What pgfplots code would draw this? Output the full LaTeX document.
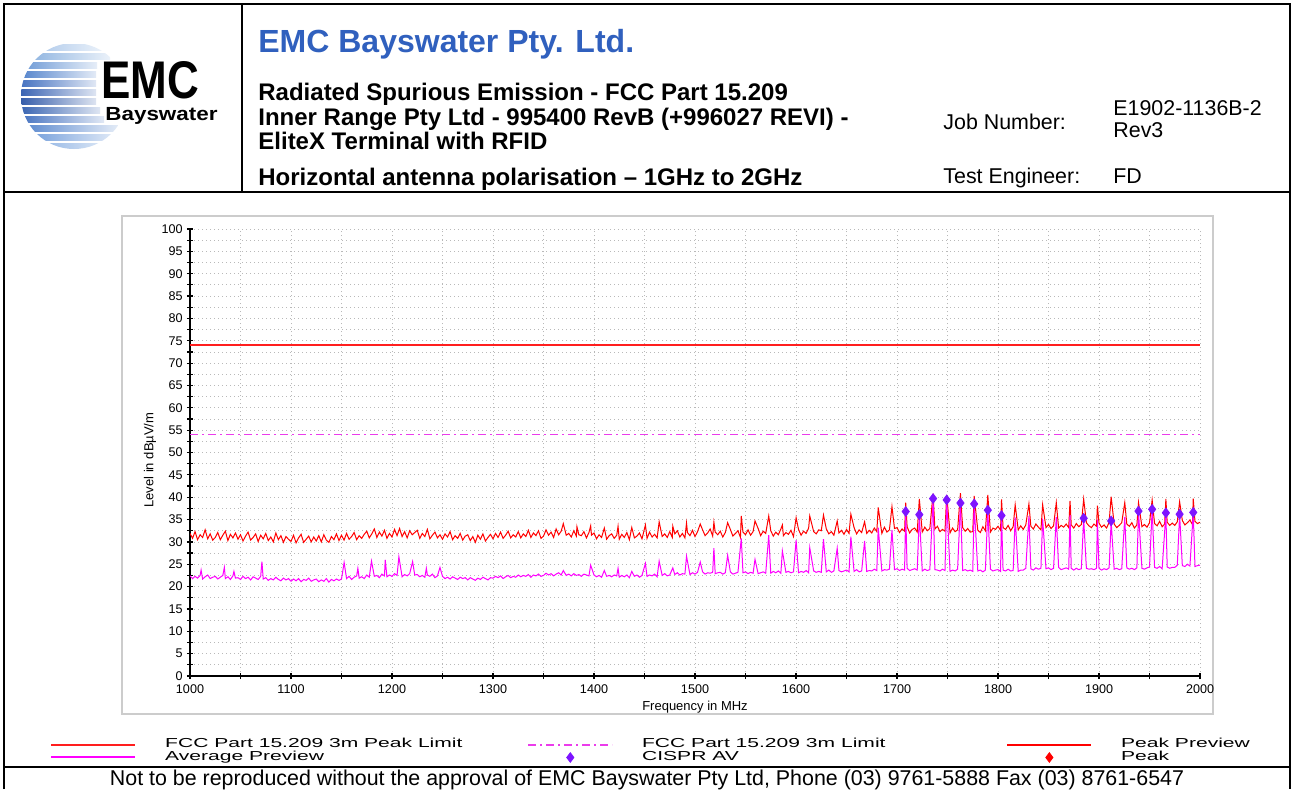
\documentclass[border=0pt]{standalone}
\usepackage{pgfplots}
\pgfplotsset{compat=1.18}
\usepackage{fontspec}
\setmainfont{Liberation Sans}
\usepackage{graphicx}
\definecolor{emcblue}{RGB}{48,96,190}
\definecolor{limmag}{RGB}{235,60,235}
\definecolor{pkred}{RGB}{255,0,0}
\definecolor{avmag}{RGB}{255,0,255}
\definecolor{cispr}{RGB}{125,20,255}
\definecolor{s1}{RGB}{150,185,228}
\definecolor{s2}{RGB}{120,165,218}
\definecolor{s3}{RGB}{90,140,208}
\definecolor{s4}{RGB}{65,118,198}
\definecolor{s5}{RGB}{48,98,185}
\definecolor{s6}{RGB}{36,82,170}
\definecolor{s7}{RGB}{30,74,160}
\definecolor{s8}{RGB}{36,84,170}
\definecolor{s9}{RGB}{50,100,186}
\definecolor{s10}{RGB}{70,122,200}
\definecolor{s11}{RGB}{92,142,212}
\definecolor{s12}{RGB}{115,160,220}
\newcommand\legtxt[1]{\scalebox{1.62}[1]{#1}}
\pgfplotsset{
  lineleg/.style={legend image code/.code={\draw[##1, line width=1pt] (0pt,0pt) -- (42pt,0pt);}},
  markleg/.style={legend image code/.code={\path[draw=none, fill=none] (0pt,-0.5pt) rectangle (42pt,0.5pt); \draw[##1] plot coordinates {(21pt,0pt)};}},
}
\begin{document}
\begin{tikzpicture}
\path[use as bounding box] (0pt,0pt) rectangle (646.5pt,-394.5pt);
\begin{scope}[x=0.5pt,y=-0.5pt]
\fill[white] (0,0) rectangle (1293,789);
% logo
\begin{scope}
\clip (74,96) circle (53);
\foreach \yy/\cc/\xe in {44/s1/108,53/s2/110,62/s3/97,71/s4/96,80/s5/96,89/s6/96,98/s7/96,107/s8/100,116/s9/104,125/s10/118,134/s11/120,143/s12/118}{
  \shade[left color=\cc, right color=\cc!15!white] (10,\yy) rectangle (\xe,\yy+6);
}
\end{scope}
\node[anchor=base west, inner sep=0pt, font=\fontsize{26.5}{28}\selectfont\bfseries] at (101,98) {\scalebox{0.83}[1]{EMC}};
\node[anchor=base west, inner sep=0pt, font=\fontsize{9.5}{11}\selectfont\bfseries] at (105,120) {\scalebox{1.18}[1]{Bayswater}};
% frame
\draw[line width=1pt] (4,789) -- (4,4) -- (1290,4) -- (1290,789);
\draw[line width=1pt] (4,192) -- (1290,192);
\draw[line width=1pt] (242,4) -- (242,192);
\draw[line width=1pt] (4,767) -- (1290,767);
% header text
\node[anchor=base west, inner sep=0pt, text=emcblue, font=\fontsize{16}{19}\selectfont\bfseries] at (258,52) {EMC Bayswater Pty. Ltd.};
\node[anchor=base west, inner sep=0pt, font=\fontsize{12}{14}\selectfont\bfseries] at (258,100) {Radiated Spurious Emission - FCC Part 15.209};
\node[anchor=base west, inner sep=0pt, font=\fontsize{12}{14}\selectfont\bfseries] at (258,125) {Inner Range Pty Ltd - 995400 RevB (+996027 REVI) -};
\node[anchor=base west, inner sep=0pt, font=\fontsize{12}{14}\selectfont\bfseries] at (258,149) {EliteX Terminal with RFID};
\node[anchor=base west, inner sep=0pt, font=\fontsize{12}{14}\selectfont\bfseries] at (258,185) {Horizontal antenna polarisation -- 1GHz to 2GHz};
\node[anchor=base west, inner sep=0pt, font=\fontsize{10.7}{13}\selectfont] at (943,129) {Job Number:};
\node[anchor=base west, inner sep=0pt, font=\fontsize{10.7}{13}\selectfont] at (1113,115) {E1902-1136B-2};
\node[anchor=base west, inner sep=0pt, font=\fontsize{10.7}{13}\selectfont] at (1113,137) {Rev3};
\node[anchor=base west, inner sep=0pt, font=\fontsize{10.7}{13}\selectfont] at (943,183) {Test Engineer:};
\node[anchor=base west, inner sep=0pt, font=\fontsize{10.7}{13}\selectfont] at (1113,183) {FD};
% chart panel
\draw[gray!40, line width=0.75pt] (122,216) rectangle (1213,714);
% footer
\node[anchor=base, inner sep=0pt, font=\fontsize{10.7}{12}\selectfont] at (647,785) {Not to be reproduced without the approval of EMC Bayswater Pty Ltd, Phone (03) 9761-5888 Fax (03) 8761-6547};
\end{scope}
\begin{axis}[
  at={(95pt,-338pt)}, anchor=south west,
  scale only axis, width=505pt, height=223.5pt,
  xmin=1000, xmax=2000, ymin=0, ymax=100,
  axis lines=left, axis line style={-, line width=0.6pt},
  every inner x axis line/.append style={-},
  every inner y axis line/.append style={-},
  xtick={1000,1100,...,2000}, ytick={0,5,...,100},
  minor tick num=1,
  tick align=center, major tick length=3.2pt, minor tick length=3pt,
  tick style={black, line width=0.6pt},
  grid=both,
  major grid style={gray!55, line width=0.4pt, dash pattern=on 0.5pt off 1.5pt},
  minor grid style={gray!55, line width=0.4pt, dash pattern=on 0.5pt off 1.5pt},
  scaled ticks=false,
  /pgf/number format/1000 sep={},
  /pgf/number format/assume math mode=true,
  tick label style={font=\fontsize{6.3}{7}\selectfont},
  xticklabel style={yshift=1pt},
  yticklabel style={xshift=1.5pt},
  xlabel={Frequency in MHz}, ylabel={Level in dBµV/m},
  label style={font=\fontsize{6.5}{8}\selectfont},
  xlabel style={at={(axis description cs:0.5,-0.069)}, anchor=center},
  ylabel style={at={(axis description cs:-0.0396,0.483)}, anchor=center},
  legend columns=3,
  legend cell align=left,
  lineleg,
  legend style={at={(axis description cs:-0.1386,-0.137)}, anchor=north west,
    draw=none, fill=none, inner sep=0pt, row sep=-0.6pt,
    font=\fontsize{6.5}{7}\selectfont,
    nodes={inner sep=0.4pt},
    /tikz/every odd column/.append style={column sep=14pt},
    /tikz/column 2/.append style={column sep=32pt},
    /tikz/column 4/.append style={column sep=60pt}},
]
\addplot[draw={rgb,255:red,255;green,30;blue,30}, line width=0.8pt, solid] coordinates {(1000,74) (1250,74) (1500,74) (1750,74) (2000,74)};
\addlegendentry{\legtxt{FCC Part 15.209 3m Peak Limit}}
\addplot[color=limmag, line width=0.65pt, dash pattern=on 4pt off 2pt on 1pt off 2pt] coordinates {(1000,54) (2000,54)};
\addlegendentry{\legtxt{FCC Part 15.209 3m Limit}}
\addplot[color=pkred, line width=0.5pt] coordinates {
(1000,31.9)(1002.5,30.8)(1005,32.3)(1007.5,30.5)(1010,31.6)(1012.5,31.0)(1015,32.7)(1017.5,30.7)(1020,31.8)(1022.5,30.4)
(1025,31.0)(1027.5,32.1)(1030,30.5)(1032.5,31.5)(1035,32.4)(1037.5,30.3)(1040,31.7)(1042.5,30.9)(1045,32.0)(1047.5,30.6)
(1050,31.6)(1052.5,30.2)(1055,31.3)(1057.5,32.2)(1060,30.4)(1062.5,31.0)(1065,31.8)(1067.5,30.1)(1070,31.5)(1072.5,30.7)
(1075,31.9)(1077.5,30.3)(1080,31.1)(1082.5,30.0)(1085,32.0)(1087.5,30.5)(1090,31.4)(1092.5,29.9)(1095,31.2)(1097.5,30.6)
(1100,30.1)(1102.5,31.5)(1105,29.8)(1107.5,30.9)(1110,31.7)(1112.5,29.9)(1115,30.6)(1117.5,31.3)(1120,30.0)(1122.5,31.1)
(1125,30.2)(1127.5,31.4)(1130,30.0)(1132.5,31.6)(1135,30.4)(1137.5,29.9)(1140,31.2)(1142.5,30.5)(1145,31.8)(1147.5,30.3)
(1150,31.5)(1152.5,30.4)(1155,31.9)(1157.5,30.6)(1160,31.2)(1162.5,32.1)(1165,30.5)(1167.5,31.4)(1170,30.8)(1172.5,31.7)
(1175,32.4)(1177.5,30.9)(1180,31.8)(1182.5,32.9)(1185,31.0)(1187.5,32.2)(1190,31.3)(1192.5,32.6)(1195,30.8)(1197.5,31.9)
(1200,31.1)(1202.5,32.8)(1205,31.4)(1207.5,33.0)(1210,31.2)(1212.5,32.3)(1215,30.9)(1217.5,32.5)(1220,31.6)(1222.5,32.1)
(1225,32.6)(1227.5,30.8)(1230,31.9)(1232.5,31.2)(1235,32.8)(1237.5,30.7)(1240,31.5)(1242.5,32.2)(1245,30.9)(1247.5,31.6)
(1250,30.6)(1252.5,31.8)(1255,31.1)(1257.5,32.3)(1260,30.5)(1262.5,31.4)(1265,30.8)(1267.5,31.9)(1270,30.4)(1272.5,31.3)
(1275,31.6)(1277.5,30.3)(1280,31.2)(1282.5,29.9)(1285,31.5)(1287.5,30.6)(1290,31.8)(1292.5,30.2)(1295,31.0)(1297.5,31.7)
(1300,30.7)(1302.5,31.9)(1305,31.0)(1307.5,32.2)(1310,30.8)(1312.5,31.5)(1315,32.4)(1317.5,30.9)(1320,31.6)(1322.5,31.1)
(1325,32.3)(1327.5,30.9)(1330,31.8)(1332.5,31.2)(1335,32.6)(1337.5,31.0)(1340,32.0)(1342.5,31.4)(1345,32.5)(1347.5,30.8)
(1350,31.3)(1352.5,32.7)(1355,31.5)(1357.5,32.2)(1360,31.0)(1362.5,32.9)(1365,31.6)(1367.5,32.4)(1369.6,34.1)(1372.5,31.5)
(1375,31.9)(1377.5,31.1)(1380,32.5)(1382.5,31.3)(1383.1,33.4)(1385,31.6)(1387.5,31.4)(1390,32.3)(1392.5,30.9)(1395,32.1)(1396.7,33.6)(1397.5,31.5)
(1400,32.0)(1402.5,30.7)(1405,31.6)(1407.5,31.0)(1410.2,33.1)(1412.5,30.6)(1415,31.4)(1417.5,31.8)(1420,30.8)(1422.5,31.5)(1423.8,33.5)
(1425,30.6)(1427.5,31.7)(1430,31.0)(1432.5,32.1)(1435,30.5)(1437.4,33.2)(1440,30.9)(1442.5,31.3)(1445,32.0)(1447.5,30.7)
(1450.9,33.8)(1452.5,30.8)(1455,32.2)(1457.5,31.1)(1460,31.7)(1462.5,30.9)(1464.5,34.5)(1467.5,31.2)(1470,31.8)(1472.5,31.0)
(1475,32.3)(1477.5,31.0)(1478.0,33.5)(1480,31.8)(1482.5,32.5)(1485,31.1)(1487.5,31.9)(1490,30.9)(1491.6,34.2)(1492.5,32.1)(1495,31.4)(1497.5,32.6)
(1500,31.2)(1502.5,32.3)(1505.2,34.0)(1507.5,32.7)(1510,31.4)(1512.5,32.0)(1515,32.9)(1517.5,31.3)(1518.7,34.4)(1520,32.2)(1522.5,31.6)
(1525,32.4)(1527.5,31.1)(1530,32.1)(1532.3,34.3)(1535,32.8)(1537.5,31.3)(1540,31.9)(1542.5,32.5)(1545,31.0)(1545.8,35.8)(1547.5,32.2)
(1550,31.6)(1552.5,32.7)(1555,31.5)(1557.5,32.3)(1559.4,34.7)(1562.5,33.0)(1565,31.4)(1567.5,32.4)(1570,31.9)(1573.0,35.8)
(1575,32.5)(1577.5,31.3)(1580,32.2)(1582.5,31.6)(1585,32.9)(1586.5,33.8)(1587.5,31.4)(1590,32.1)(1592.5,31.7)(1595,32.6)(1597.5,31.2)
(1600.1,35.4)(1602.5,32.8)(1605,31.5)(1607.5,32.4)(1610,31.9)(1612.5,33.1)(1613.6,35.8)(1617.5,32.3)(1620,31.8)(1622.5,32.7)
(1625,32.5)(1627.2,36.0)(1630,32.9)(1632.5,31.8)(1635,32.3)(1637.5,31.5)(1640.8,34.7)(1642.5,32.0)(1645,32.6)(1647.5,31.7)
(1650,32.8)(1652.5,31.9)(1654.3,36.2)(1657.5,33.2)(1660,31.8)(1662.5,32.7)(1665,32.1)(1667.9,34.5)(1670,31.9)(1672.5,32.6)
(1675,32.0)(1677.5,33.1)(1680,32.3)(1681.4,37.7)(1685,31.9)(1687.5,33.3)(1690,32.2)(1692.5,32.7)(1695.0,37.9)(1697.5,33.0)
(1700,33.2)(1702.5,32.1)(1705,32.9)(1707.5,32.4)(1708.6,38.8)(1710,33.4)(1712.5,32.0)(1715,32.8)(1717.5,33.1)(1720,32.2)(1722.1,39.6)
(1725,32.2)(1727.5,33.3)(1730,32.5)(1732.5,33.0)(1735.7,40.8)(1737.5,32.9)(1740,33.5)(1742.5,32.3)(1745,32.8)(1747.5,32.4)(1749.2,40.5)
(1752.5,32.0)(1755,33.1)(1757.5,32.3)(1760,32.7)(1762.8,40.9)(1765,33.2)(1767.5,32.4)(1770,33.0)(1772.5,32.2)
(1775,32.3)(1776.4,40.3)(1780,32.6)(1782.5,32.1)(1785,33.4)(1787.5,32.5)(1789.9,40.5)(1792.5,32.2)(1795,33.1)(1797.5,32.8)
(1800,33.5)(1802.5,32.6)(1803.5,39.5)(1805,33.2)(1807.5,32.8)(1810,33.7)(1812.5,32.5)(1815,33.4)(1817.0,38.3)(1820,32.7)(1822.5,33.6)
(1825,32.8)(1827.5,33.8)(1830.6,38.5)(1832.5,33.5)(1835,32.9)(1837.5,34.0)(1840,33.3)(1842.5,32.7)(1844.2,38.3)(1847.5,33.2)
(1850,33.9)(1852.5,33.0)(1855,33.6)(1857.7,38.8)(1860,33.1)(1862.5,33.7)(1865,33.3)(1867.5,34.0)(1870,33.2)(1871.3,39.2)(1872.5,33.8)
(1875,33.1)(1877.5,34.1)(1880,33.4)(1882.5,33.9)(1884.8,39.6)(1887.5,34.3)(1890,33.6)(1892.5,33.2)(1895,34.0)(1897.5,33.5)(1898.4,38.1)
(1900,34.2)(1902.5,33.3)(1905,33.8)(1907.5,33.1)(1910,34.4)(1912.0,40.1)(1915,34.0)(1917.5,33.2)(1920,33.7)(1922.5,34.3)
(1925.5,38.8)(1927.5,34.0)(1930,33.5)(1932.5,34.3)(1935,33.1)(1937.5,33.8)(1939.1,38.8)(1942.5,33.4)(1945,33.9)(1947.5,33.3)
(1950,34.3)(1952.6,39.4)(1955,34.1)(1957.5,33.6)(1960,34.6)(1962.5,33.4)(1965,34.0)(1966.2,39.6)(1967.5,34.4)(1970,33.7)(1972.5,34.2)
(1975,33.7)(1977.5,34.5)(1979.8,39.0)(1982.5,34.8)(1985,33.8)(1987.5,34.3)(1990,34.9)(1992.5,33.9)(1993.3,39.7)(1995,34.6)(1997.5,34.1)(2000,34.4)
};
\addlegendentry{\legtxt{Peak Preview}}
\addplot[color=avmag, line width=0.5pt] coordinates {
(1000,22.4)(1002.5,21.8)(1005,22.3)(1007.5,21.9)(1010,22.5)(1011,23.7)(1012.5,21.7)(1015,22.2)(1017.5,22.6)(1020,21.8)(1022.5,22.1)
(1025,22.3)(1027.5,21.7)(1030,22.1)(1032.5,22.5)(1034,24.3)(1035,21.8)(1037.5,22.2)(1040,21.6)(1042.5,22.4)(1043.5,23.4)(1045,21.9)(1047.5,22.0)
(1050,21.6)(1052.5,22.3)(1055,21.8)(1057.5,22.1)(1060,21.5)(1062.5,22.2)(1065,21.9)(1067.5,21.6)(1070,22.3)(1071.2,25.6)(1072.5,21.7)
(1075,22.0)(1077.5,21.4)(1080,21.8)(1082.5,21.5)(1085,22.1)(1087.5,21.6)(1090,21.3)(1092.5,21.9)(1095,21.5)(1097.5,21.8)
(1100,21.2)(1102.5,21.7)(1105,21.3)(1107.5,21.8)(1110,21.1)(1112.5,21.6)(1115,21.4)(1117.5,21.9)(1120,21.2)(1122.5,21.5)
(1125,21.7)(1127.5,21.1)(1130,21.5)(1132.5,21.2)(1135,21.8)(1137.5,21.0)(1140,21.6)(1142.5,21.3)(1145,21.7)(1147.5,21.4)
(1150,21.7)(1152.6,25.4)(1155,21.8)(1157.5,22.3)(1160,21.6)(1162.5,22.1)(1165,22.4)(1166.2,24.1)(1167.5,21.9)(1170,22.2)(1172.5,21.8)
(1175,22.6)(1177.5,22.1)(1179.7,25.7)(1182.5,22.3)(1185,22.5)(1187.5,22.0)(1190,22.8)(1192.5,22.4)(1193.3,26.0)(1195,22.2)(1197.5,22.6)
(1200,22.3)(1202.5,22.9)(1205,22.5)(1206.8,26.7)(1210,22.2)(1212.5,22.7)(1215,22.4)(1217.5,22.9)(1220.4,25.6)(1222.5,22.6)
(1225,22.7)(1227.5,22.2)(1230,22.5)(1232.5,22.1)(1234.0,24.1)(1235,22.6)(1237.5,22.3)(1240,22.8)(1242.5,22.0)(1245,22.4)(1247.5,24.3)
(1250,22.3)(1252.5,21.8)(1255,22.1)(1257.5,21.7)(1260,22.2)(1262.5,21.9)(1265,21.6)(1267.5,22.1)(1270,21.8)(1272.5,22.0)
(1275,21.5)(1277.5,22.0)(1280,21.7)(1282.5,21.4)(1285,21.9)(1287.5,21.6)(1290,22.1)(1292.5,21.8)(1295,21.5)(1297.5,22.0)
(1300,21.9)(1302.5,22.3)(1305,22.0)(1307.5,22.4)(1310,21.8)(1312.5,22.2)(1315,22.5)(1317.5,22.0)(1320,22.3)(1322.5,22.1)
(1325,22.6)(1327.5,22.2)(1330,22.5)(1332.5,22.3)(1335,22.7)(1337.5,22.1)(1340,22.6)(1342.5,22.4)(1345,22.8)(1347.5,22.3)
(1350,22.5)(1352.5,23.0)(1355,22.6)(1357.5,22.9)(1360,22.4)(1362.5,22.8)(1365,23.1)(1367.5,22.6)(1369.6,23.6)(1372.5,22.5)
(1375,22.8)(1377.5,22.4)(1380,22.9)(1382.5,22.5)(1385,22.7)(1387.5,22.3)(1390,22.8)(1392.5,22.6)(1395,22.4)(1396.7,24.8)
(1400,22.6)(1402.5,22.2)(1405,22.5)(1407.5,22.1)(1410.2,23.6)(1412.5,22.3)(1415,22.5)(1417.5,22.2)(1420,22.6)(1422.5,22.4)(1423.8,24.1)
(1425,22.1)(1427.5,22.5)(1430,22.2)(1432.5,22.6)(1435,22.0)(1437.4,23.4)(1440,22.3)(1442.5,22.6)(1445,22.1)(1447.5,22.5)
(1450.9,25.2)(1452.5,22.3)(1455,22.6)(1457.5,22.4)(1460,22.8)(1462.5,22.2)(1464.5,25.7)(1467.5,22.5)(1470,22.9)(1472.5,22.4)
(1475,22.6)(1478.0,24.2)(1480,22.7)(1482.5,23.1)(1485,22.6)(1487.5,22.9)(1490,22.8)(1491.6,26.8)(1495,22.7)(1497.5,23.1)
(1500,22.8)(1502.5,23.2)(1505.2,25.5)(1507.5,23.3)(1510,22.8)(1512.5,23.1)(1515,23.0)(1517.5,23.2)(1518.7,28.6)(1520,22.9)(1522.5,23.1)
(1525,23.2)(1527.5,22.8)(1530,23.1)(1532.3,27.0)(1535,23.3)(1537.5,22.8)(1540,23.0)(1542.5,23.2)(1545.8,30.8)(1547.5,23.1)
(1550,23.3)(1552.5,22.9)(1555,23.2)(1557.5,23.0)(1559.4,26.1)(1562.5,22.9)(1565,23.1)(1567.5,23.3)(1570,23.0)(1573.0,31.5)
(1575,23.0)(1577.5,23.4)(1580,23.1)(1582.5,23.5)(1585,23.0)(1586.5,28.0)(1590,23.2)(1592.5,23.4)(1595,23.1)(1597.5,23.3)
(1600.1,30.4)(1602.5,23.1)(1605,23.4)(1607.5,23.2)(1610,23.6)(1612.5,23.1)(1613.6,28.7)(1617.5,23.5)(1620,23.2)(1622.5,23.4)
(1625,23.2)(1627.2,30.6)(1630,23.3)(1632.5,23.7)(1635,23.2)(1637.5,23.5)(1640.8,28.6)(1642.5,23.6)(1645,23.3)(1647.5,23.5)
(1650,23.7)(1652.5,23.3)(1654.3,31.2)(1657.5,23.4)(1660,23.8)(1662.5,23.3)(1665,23.5)(1667.9,30.2)(1670,23.4)(1672.5,23.6)
(1675,23.5)(1677.5,23.9)(1680,23.6)(1681.4,33.2)(1685,23.5)(1687.5,23.8)(1690,23.7)(1692.5,23.9)(1695.0,32.7)(1697.5,23.8)
(1700,24.0)(1702.5,23.6)(1705,23.9)(1707.5,23.7)(1708.6,36.8)(1710,24.1)(1712.5,23.6)(1715,23.8)(1717.5,24.0)(1720,23.7)(1722.1,36.1)
(1725,23.5)(1727.5,23.9)(1730,23.6)(1732.5,23.8)(1735.7,39.6)(1737.5,23.8)(1740,23.7)(1742.5,23.5)(1745,23.9)(1747.5,23.6)(1749.2,39.3)
(1752.5,23.4)(1755,23.7)(1757.5,23.5)(1760,23.9)(1762.8,38.6)(1765,23.6)(1767.5,23.8)(1770,23.5)(1772.5,23.7)
(1775,23.4)(1776.4,38.4)(1780,23.5)(1782.5,23.7)(1785,23.3)(1787.5,23.7)(1789.9,37.0)(1792.5,23.9)(1795,23.5)(1797.5,23.7)
(1800,23.8)(1802.5,23.4)(1803.5,35.8)(1805,23.7)(1807.5,23.5)(1810,23.9)(1812.5,23.5)(1815,23.6)(1817.0,35.5)(1820,23.4)(1822.5,23.7)
(1825,23.7)(1827.5,24.1)(1830.6,35.8)(1832.5,24.0)(1835,23.7)(1837.5,24.2)(1840,23.9)(1842.5,24.1)(1844.2,35.2)(1847.5,24.0)
(1850,24.2)(1852.5,23.8)(1855,24.1)(1857.7,35.6)(1860,24.3)(1862.5,23.8)(1865,24.0)(1867.5,24.2)(1870,23.9)(1871.3,36.0)(1872.5,24.1)
(1875,23.7)(1877.5,24.1)(1880,23.8)(1882.5,24.0)(1884.8,35.2)(1887.5,24.1)(1890,23.9)(1892.5,24.0)(1895,23.8)(1897.5,24.1)(1898.4,35.0)
(1900,24.1)(1902.5,23.7)(1905,24.0)(1907.5,23.8)(1910,24.2)(1912.0,34.6)(1915,23.9)(1917.5,24.1)(1920,23.8)(1922.5,24.0)
(1925.5,35.6)(1927.5,24.2)(1930,23.9)(1932.5,24.1)(1935,23.8)(1937.5,24.2)(1939.1,36.8)(1942.5,24.1)(1945,23.9)(1947.5,24.2)
(1950,24.4)(1952.6,37.2)(1955,24.3)(1957.5,24.1)(1960,24.5)(1962.5,24.0)(1966.2,36.4)(1967.5,24.4)(1970,24.1)(1972.5,24.3)
(1975,24.3)(1977.5,24.8)(1979.8,36.1)(1982.5,24.7)(1985,24.5)(1987.5,25.0)(1990,24.6)(1993.3,36.5)(1995,24.5)(1997.5,24.7)(2000,24.8)
};
\addlegendentry{\legtxt{Average Preview}}
\addplot[color=cispr, only marks, mark=diamond*, mark size=2.4pt, markleg]
 coordinates {(1708.6,36.8)(1722.1,36.1)(1735.7,39.7)(1749.2,39.4)(1762.8,38.7)(1776.4,38.5)(1789.9,37.1)(1803.5,35.9)(1884.8,35.3)(1912.0,34.7)(1939.1,36.9)(1952.6,37.3)(1966.2,36.5)(1979.8,36.2)(1993.3,36.6)};
\addlegendentry{\legtxt{CISPR AV}}
\addlegendimage{color=pkred, only marks, mark=diamond*, mark size=2.4pt, markleg}
\addlegendentry{\legtxt{Peak}}
\end{axis}
\end{tikzpicture}
\end{document}
